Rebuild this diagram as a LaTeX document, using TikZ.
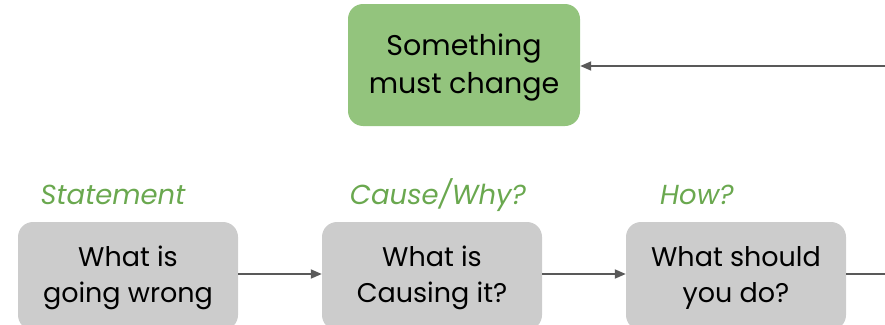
\documentclass[tikz,border=0pt]{standalone}
\usepackage{fontspec}
\setmainfont{Poppins}
\usetikzlibrary{arrows.meta}
\definecolor{boxgreen}{HTML}{93C47D}
\definecolor{boxgray}{HTML}{CCCCCC}
\definecolor{labelgreen}{HTML}{6AA84F}
\definecolor{linegray}{HTML}{595959}
\tikzset{
  x=1pt, y=-1pt,
  goalbox/.style={fill=boxgreen, rounded corners=15pt, minimum width=232pt, minimum height=122pt, inner sep=0pt},
  stepbox/.style={fill=boxgray, rounded corners=15pt, minimum width=220pt, minimum height=108pt, inner sep=0pt},
  goaltext/.style={align=center, font=\fontsize{28.5}{38}\selectfont, inner sep=0pt, yshift=-3pt},
  steptext/.style={align=center, font=\fontsize{27}{36}\selectfont, inner sep=0pt, yshift=-2pt},
  steplabel/.style={text=labelgreen, font=\fontsize{27.5}{30}\selectfont\itshape, inner sep=0pt},
  flow/.style={draw=linegray, line width=1.8pt, -{Triangle[length=11pt,width=9pt]}},
  flowend/.style={draw=linegray, line width=1.8pt},
}
\begin{document}
\begin{tikzpicture}
\useasboundingbox (0,0) rectangle (885,324);
\clip (0,0) rectangle (885,324);
% goal box at the top
\node[goalbox, label={[goaltext]center:Something\\must change}] (goal) at (464,65) {};
% the three steps
\node[stepbox, label={[steptext]center:What is\\going wrong}] (s1) at (128,276) {};
\node[stepbox, label={[steptext]center:What is\\Causing it?}] (s2) at (432,276) {};
\node[stepbox, label={[steptext]center:What should\\you do?}] (s3) at (736,276) {};
% step captions
\node[steplabel] (l1) at (113,195) {Statement};
\node[steplabel] (l2) at (438,195) {Cause/Why?};
\node[steplabel] (l3) at (697,195) {How?};
% connectors
\coordinate (outR) at (885,274);
\coordinate (backR) at (885,66);
\draw[flow] (s1.east |- 0,274) -- (s2.west |- 0,274);
\draw[flow] (s2.east |- 0,274) -- (s3.west |- 0,274);
\draw[flowend] (s3.east |- 0,274) -- (outR);
\draw[flow] (backR) -- (goal.east |- backR);
\end{tikzpicture}
\end{document}
